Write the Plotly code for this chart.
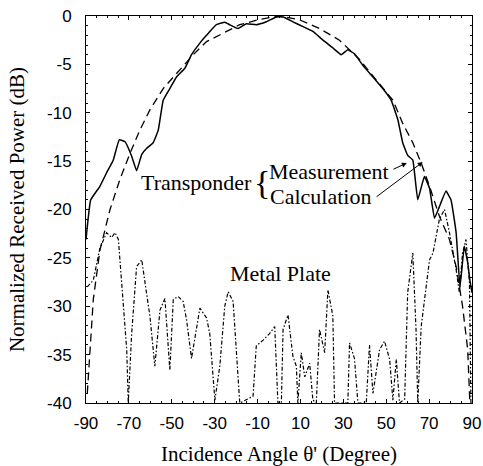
import plotly.graph_objects as go

# Transponder measurement (solid)
meas_x = [-90, -87.8, -83.5, -80.4, -77.3, -74.5, -71.8, -68.7, -66.4, -64, -61.8, -58.7, -56.3, -54,
          -50.9, -47.8, -43.9, -40.8, -36.9, -33.8, -29.2, -25.3, -23, -19.1, -15.2, -10.6, -5.9, -1.2,
          1.9, 6.5, 11.2, 15.8, 20.5, 25.1, 29, 32.1, 35.2, 39.1, 43.8, 48.4, 52.3, 55.4, 57.7, 60,
          62.4, 64.7, 67.8, 70.2, 72.5, 74.8, 77.9, 80.2, 82.6, 84.4, 86.4, 88, 89, 90]
meas_y = [-23.1, -19.0, -17.6, -16.2, -14.9, -12.8, -13.0, -14.5, -16.0, -14.3, -13.7, -13.1, -11.8, -8.7,
          -7.5, -6.3, -5.4, -4.0, -2.8, -2.0, -0.9, -0.65, -0.9, -1.3, -0.8, -0.9, -0.6, -0.1,
          -0.1, -0.6, -1.1, -1.6, -2.5, -3.3, -4.0, -3.5, -3.9, -5.1, -6.3, -7.5, -8.7, -10.7, -13.1, -14.4,
          -14.9, -19.0, -16.6, -17.8, -20.9, -19.7, -18.1, -19.0, -22.4, -28.0, -23.8, -25.5, -27.3, -28.6]

# Transponder calculation (dashed)
calc_x = [-89.4, -86.6, -83.5, -78.8, -74.2, -69.5, -64.9, -60.2, -54, -47.8, -40, -33.8, -26.1, -18.3,
          -9, 0.3, 9.6, 18.9, 28.2, 37.6, 45.3, 53.1, 57.7, 62.4, 66.3, 70.2, 74.8, 79.5, 82.6, 85.6,
          88, 89]
calc_y = [-39.0, -29.3, -24.2, -20.0, -16.9, -14.2, -11.8, -9.7, -7.5, -5.9, -4.0, -2.65, -1.8, -0.9,
          -0.35, 0.0, -0.4, -1.3, -2.5, -4.5, -6.6, -8.7, -11.1, -13.1, -15.2, -17.6, -20.7, -23.1, -25.9, -30.0,
          -34.5, -40.0]

# Metal plate (dash-dot)
metal_x = [-89.4, -86.6, -83.5, -80.4, -78, -76.5, -74.9, -72.6, -71, -70.3, -68.7, -66.4, -64, -61.8,
           -60.2, -57.9, -55.5, -53.2, -50.9, -49.3, -47, -44.7, -43.1, -40.8, -36.9, -33.8, -32.3, -29.9,
           -27.6, -25.3, -23.7, -21.4, -19.9, -18.3, -12.1, -10.6, -7.4, -4.3, -2, -0.5, 1.1, 1.9, 4.2,
           6.5, 8.1, 8.8, 10.4, 12, 14.3, 15.8, 17.4, 18.9, 21.3, 22.8, 25.1, 25.9, 32.1, 32.9, 35.2,
           36.8, 40.7, 42.2, 43.8, 46.9, 49.2, 51.6, 53.1, 54.7, 56.2, 58.6, 60, 62.4, 63.9, 64.7, 66.3,
           67.8, 70.2, 71.8, 74.8, 77.2, 79.5, 82.6, 84.1, 85.6, 87.2, 88.8, 89.5]
metal_y = [-28.0, -27.3, -24.0, -22.4, -22.9, -22.4, -23.1, -29.3, -34.5, -40.0, -32.8, -25.9, -25.2, -28.6,
           -31.0, -36.2, -30.4, -29.2, -36.6, -29.3, -29.0, -29.5, -31.4, -35.4, -30.2, -31.2, -32.8, -39.7,
           -36.2, -30.0, -28.5, -29.5, -34.5, -40.0, -39.3, -34.1, -33.5, -32.8, -32.1, -40.0, -40.0, -32.4, -30.9,
           -35.2, -36.2, -40.0, -34.8, -37.3, -35.9, -39.7, -40.0, -32.4, -34.8, -28.3, -31.0, -40.0, -40.0, -33.8, -35.4,
           -40.0, -40.0, -34.0, -39.0, -34.5, -33.6, -35.5, -39.7, -35.5, -40.0, -39.6, -28.6, -24.5, -32.4, -40.0, -32.1,
           -29.3, -25.2, -24.5, -21.0, -20.0, -22.4, -26.2, -28.6, -24.5, -23.1, -27.6, -40.0]

x_ticks = [-90, -70, -50, -30, -10, 10, 30, 50, 70, 90]
y_ticks = [0, -5, -10, -15, -20, -25, -30, -35, -40]

serif = "Liberation Serif, Times New Roman, serif"
sans = "Liberation Sans, Arial, sans-serif"

fig = go.Figure()
fig.add_trace(go.Scatter(x=metal_x, y=metal_y, mode="lines",
                         line=dict(color="black", width=1.2, dash="4px,2px,1.5px,2px"), showlegend=False))
fig.add_trace(go.Scatter(x=calc_x, y=calc_y, mode="lines",
                         line=dict(color="black", width=1.3, dash="8px,5px"), showlegend=False))
fig.add_trace(go.Scatter(x=meas_x, y=meas_y, mode="lines",
                         line=dict(color="black", width=1.5, shape="spline", smoothing=0.3), showlegend=False))

ann_font = dict(family=serif, size=22, color="black")
fig.add_annotation(x=-38.5, y=-17.2, text="Transponder", showarrow=False, font=ann_font,
                   xanchor="center", yanchor="middle")
fig.add_annotation(x=-7.9, y=-17.2, text="{", showarrow=False,
                   font=dict(family=serif, size=34, color="black"), xanchor="center", yanchor="middle")
fig.add_annotation(x=-5.6, y=-16.1, text="Measurement", showarrow=False, font=ann_font,
                   xanchor="left", yanchor="middle")
fig.add_annotation(x=-5.1, y=-18.7, text="Calculation", showarrow=False, font=ann_font,
                   xanchor="left", yanchor="middle")
fig.add_annotation(x=0.5, y=-26.6, text="Metal Plate", showarrow=False, font=ann_font,
                   xanchor="center", yanchor="middle")
# arrows
fig.add_annotation(x=59.6, y=-15.2, ax=52.7, ay=-15.9, axref="x", ayref="y", text="",
                   showarrow=True, arrowhead=2, arrowsize=1, arrowwidth=1, arrowcolor="black")
fig.add_annotation(x=67.0, y=-15.1, ax=44.8, ay=-18.8, axref="x", ayref="y", text="",
                   showarrow=True, arrowhead=2, arrowsize=1, arrowwidth=1, arrowcolor="black")

fig.update_layout(
    width=483, height=466,
    margin=dict(l=86, r=11, t=16, b=63),
    paper_bgcolor="white", plot_bgcolor="white",
    font=dict(family=sans, color="black"),
)
fig.update_xaxes(range=[-90, 90], tickvals=x_ticks, ticktext=[str(v) for v in x_ticks],
                 showgrid=False, zeroline=False, showline=True, linecolor="black", linewidth=1,
                 mirror="allticks", ticks="inside", ticklen=4, tickcolor="black",
                 minor=dict(dtick=5, ticks="inside", ticklen=2, tickcolor="black"),
                 tickfont=dict(family=sans, size=17), ticklabelstandoff=5, automargin=False,
                 title=dict(text="Incidence Angle θ' (Degree)", font=dict(family=serif, size=21), standoff=14))
fig.update_yaxes(range=[-40, 0], tickvals=y_ticks, ticktext=[str(v) for v in y_ticks],
                 showgrid=False, zeroline=False, showline=True, linecolor="black", linewidth=1,
                 mirror="allticks", ticks="inside", ticklen=4, tickcolor="black",
                 minor=dict(dtick=1, ticks="inside", ticklen=2, tickcolor="black"),
                 tickfont=dict(family=sans, size=17), ticklabelstandoff=10, automargin=False,
                 title=dict(text="Normalized Received Power (dB)", font=dict(family=serif, size=21), standoff=16))

fig.write_html("out.html")
